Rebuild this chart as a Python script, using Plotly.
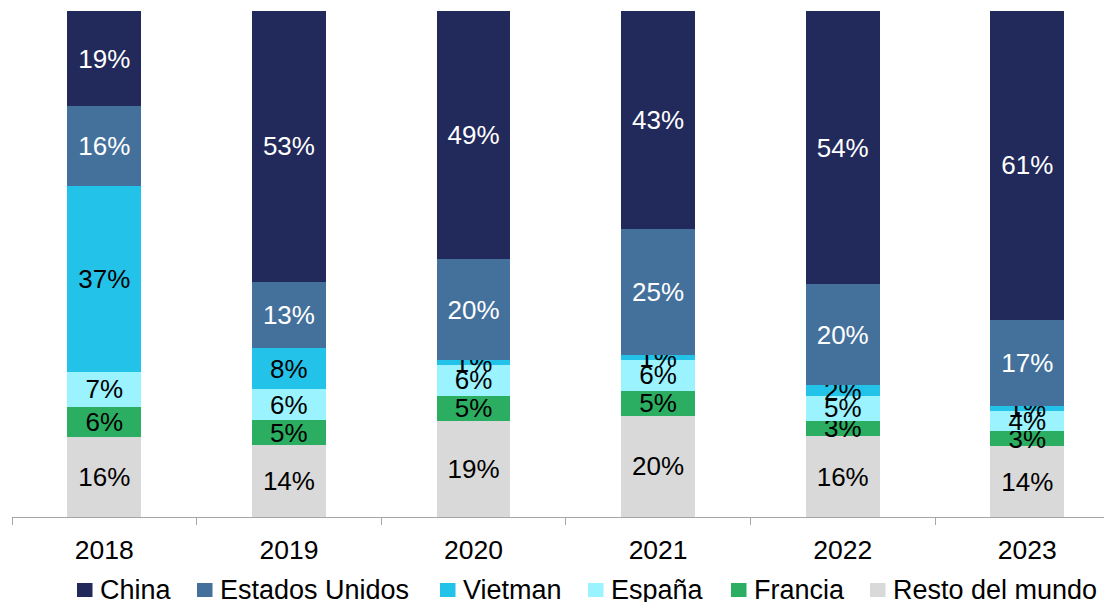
import plotly.graph_objects as go

# Data (share of total, %)
years = ["2018", "2019", "2020", "2021", "2022", "2023"]
resto = [16, 14, 19, 20, 16, 14]
francia = [6, 5, 5, 5, 3, 3]
espana = [7, 6, 6, 6, 5, 4]
vietman = [37, 8, 1, 1, 2, 1]
estados_unidos = [16, 13, 20, 25, 20, 17]
china = [19, 53, 49, 43, 54, 61]

# bottom -> top stacking order
series = [
    ("Resto del mundo", resto, "#D9D9D9", "black"),
    ("Francia", francia, "#2BAE62", "black"),
    ("España", espana, "#9AF3FE", "black"),
    ("Vietman", vietman, "#23C3E9", "black"),
    ("Estados Unidos", estados_unidos, "#44719C", "white"),
    ("China", china, "#22295B", "white"),
]

FONT = "Liberation Sans, Arial, sans-serif"
# the html body has an 8px margin, so work in screen pixels and shift
OFF = 8
W, H = 1112 - OFF, 602 - OFF
ML, MR, MT = 12 - OFF, 0, 11 - OFF
MB = H - (517 - OFF)
CAT_PX = 184.6

fig = go.Figure()
for name, vals, color, txtcolor in series:
    fig.add_trace(go.Bar(
        x=years, y=vals, name=name,
        marker=dict(color=color, line=dict(width=0)),
        width=0.4,
        text=[f"{v}%" for v in vals],
        texttemplate="%{text}",
        textposition="inside",
        insidetextanchor="middle",
        textangle=0,
        insidetextfont=dict(family=FONT, size=26, color=txtcolor),
        showlegend=False,
        hoverinfo="skip",
    ))

fig.update_layout(
    width=W, height=H,
    margin=dict(l=ML, r=MR, t=MT, b=MB, pad=0),
    barmode="stack",
    barnorm="percent",
    plot_bgcolor="white",
    paper_bgcolor="white",
    font=dict(family=FONT, size=26, color="black"),
    uniformtext=dict(mode="show", minsize=26),
)

fig.update_xaxes(
    type="category",
    range=[-0.5, -0.5 + (W - ML - MR) / CAT_PX],
    tickson="boundaries",
    ticks="outside", ticklen=7, tickcolor="#A6A6A6", tickwidth=1,
    ticklabelstandoff=9,
    showline=True, linecolor="#A6A6A6", linewidth=1,
    showgrid=False, zeroline=False,
    tickfont=dict(family=FONT, size=26.5, color="black"),
)
fig.update_yaxes(range=[0, 100], visible=False, showgrid=False)

# hand-drawn legend to match the original spacing (screen pixels)
plot_w = W - ML - MR
plot_h = H - MT - MB
def px_x(p):
    return (p - OFF - ML) / plot_w
def px_y(p):
    return (H - MB - (p - OFF)) / plot_h

legend_order = ["China", "Estados Unidos", "Vietman", "España", "Francia", "Resto del mundo"]
legend_left_px = [77, 197, 440, 588, 731, 870]
colors = {name: color for name, _, color, _ in series}
for name, left in zip(legend_order, legend_left_px):
    fig.add_shape(
        type="rect", xref="paper", yref="paper",
        x0=px_x(left), x1=px_x(left + 15.5),
        y0=px_y(597), y1=px_y(583),
        fillcolor=colors[name], line=dict(width=0),
    )
    fig.add_annotation(
        xref="paper", yref="paper",
        x=px_x(left + 21), y=px_y(590),
        xanchor="left", yanchor="middle",
        text=name, showarrow=False,
        font=dict(family=FONT, size=27, color="black"),
    )

fig.write_html("out.html")
